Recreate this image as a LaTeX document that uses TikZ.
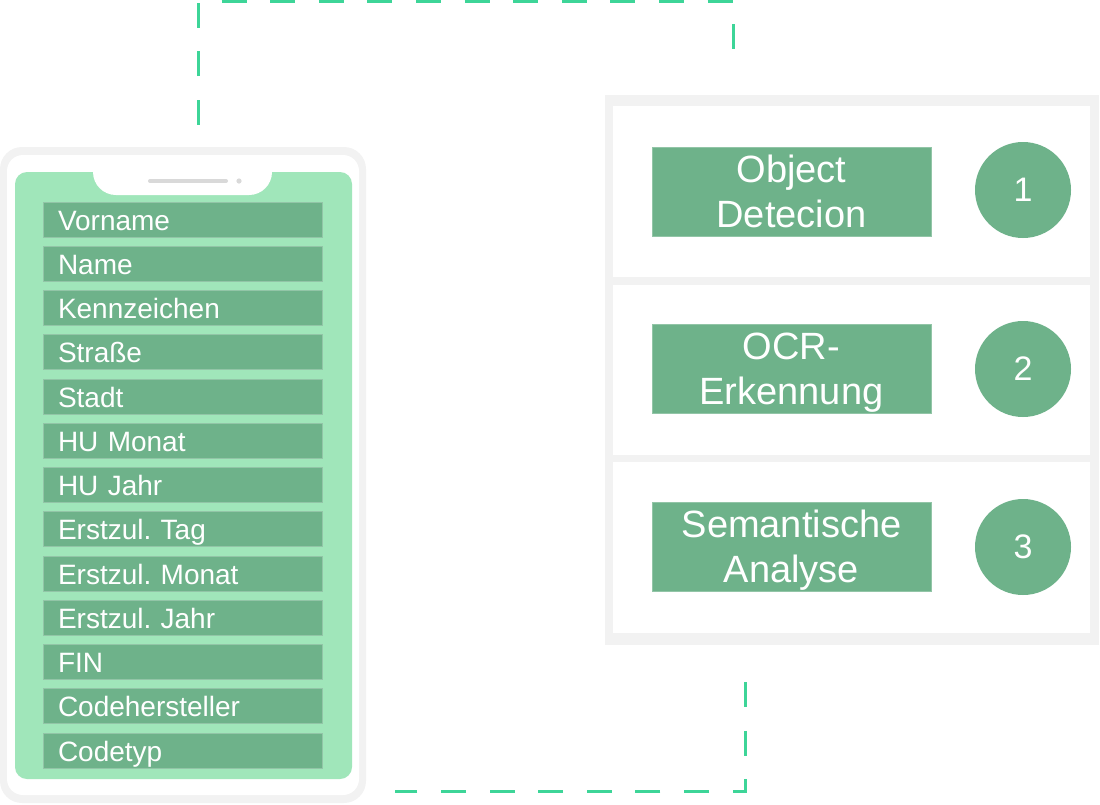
\documentclass[tikz,border=0pt]{standalone}
\usepackage{fontspec}
\setmainfont{Liberation Sans}
\usetikzlibrary{positioning,calc}
\frenchspacing

\definecolor{boxgreen}{HTML}{6EB28A}
\definecolor{screengreen}{HTML}{A0E6BA}
\definecolor{wiregreen}{HTML}{3DD598}
\definecolor{framegray}{HTML}{F2F2F2}
\definecolor{speakergray}{HTML}{D9D9D9}

\tikzset{
	field/.style={fill=boxgreen, draw=boxgreen!75!white, line width=0.8pt, text=white, minimum height=35pt, text width=249pt, inner xsep=15pt, inner ysep=0pt, align=left, text height=26pt, text depth=5pt, font=\fontsize{28}{32}\selectfont},
	stepbox/.style={fill=boxgreen, draw=boxgreen!75!white, line width=0.8pt, text=white, minimum width=279pt, minimum height=89pt, inner sep=0pt, align=center, text depth=0pt, font=\fontsize{38}{45}\selectfont},
	numcirc/.style={circle, fill=boxgreen, text=white, minimum size=96pt, inner sep=0pt, font=\fontsize{34}{40}\selectfont},
	section/.style={fill=white, minimum width=477pt, inner sep=0pt},
	wire/.style={wiregreen, line width=3pt, dash pattern=on 25pt off 23.6pt}
}

\begin{document}
\begin{tikzpicture}[x=1pt, y=-1pt]
	\useasboundingbox (0,0) rectangle (1100,804);

	% Phone - grey frame, white bezel, green screen
	\node[fill=framegray, rounded corners=22pt, minimum width=366pt, minimum height=656pt, inner sep=0pt] (phone) at (183,475) {};
	\fill[white, rounded corners=16pt] (7,155) rectangle (359,795);
	\fill[screengreen, rounded corners=12pt] (15,172) rectangle (352,779);

	% Notch with speaker and camera
	\fill[white] (93,165) -- (93,172) arc[start angle=180, end angle=90, radius=23] -- (249,195) arc[start angle=90, end angle=0, radius=23] -- (272,165) -- cycle;
	\draw[speakergray, line width=4pt, line cap=round] (150,181) -- (226,181);
	\fill[speakergray] (239,181) circle[radius=2.6];

	% Form fields on the screen
	\foreach \label [count=\i from 0] in {Vorname, Name, Kennzeichen, Straße, Stadt, HU Monat, HU Jahr, Erstzul. Tag, Erstzul. Monat, Erstzul. Jahr, FIN, Codehersteller, Codetyp}
		\node[field] (f\i) at (182.5, 219.5+44.25*\i) {\label};

	% Processing panel with three steps
	\node[fill=framegray, minimum width=494pt, minimum height=550pt, inner sep=0pt] (panel) at (852,370) {};
	\node[section, minimum height=171pt] (sec1) at (851.5,191.5) {};
	\node[section, minimum height=170pt] (sec2) at (851.5,370) {};
	\node[section, minimum height=171pt] (sec3) at (851.5,547.5) {};

	\node[stepbox] (step1) at (791.5,191.5) {Object\\Detecion};
	\node[stepbox] (step2) at (791.5,369) {OCR-\\Erkennung};
	\node[stepbox] (step3) at (791.5,546.5) {Semantische\\Analyse};

	\node[numcirc] (num1) at (1023,190) {1};
	\node[numcirc] (num2) at (1023,369) {2};
	\node[numcirc] (num3) at (1023,547) {3};

	% Dashed links between phone and panel
	\coordinate (wireA) at ([xshift=199pt, yshift=11pt]phone.north west);
	\coordinate (wireB) at ([xshift=129pt, yshift=38pt]panel.north west);
	\coordinate (wireC) at ([xshift=141pt, yshift=-37pt]panel.south west);
	\coordinate (wireD) at ([xshift=29pt, yshift=12pt]phone.south east);
	\draw[wire, dash phase=37.6pt] (wireA) |- ($(wireB)+(0,-55)$) -- (wireB);
	\draw[wire] (wireC) |- (wireD);
\end{tikzpicture}
\end{document}
